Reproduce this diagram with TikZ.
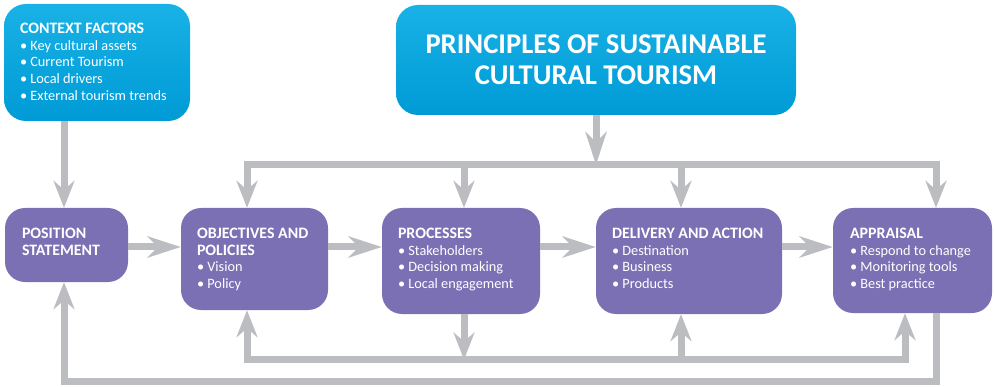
\documentclass[tikz,border=0pt]{standalone}
\usepackage{fontspec}
\setmainfont{Carlito}
\usetikzlibrary{arrows.meta, positioning}

\definecolor{skytop}{HTML}{18B2E6}
\definecolor{skybot}{HTML}{009AD6}
\definecolor{plum}{HTML}{7B70B4}
\definecolor{flowgrey}{HTML}{BCBDC1}

\newcommand\stagehead[1]{{\bfseries\fontsize{15.9}{16.7}\selectfont #1}}

\tikzset{
	flowtip/.tip={Stealth[length=27pt,width=21pt,inset=9pt]},
	longtip/.tip={Stealth[length=33pt,width=21pt,inset=10pt]},
	flow/.style={draw=flowgrey, line width=7pt},
	bluebox/.style={rounded corners=22pt, top color=skytop, bottom color=skybot, inner sep=0pt},
	stagebox/.style={rounded corners=20pt, fill=plum, inner sep=0pt},
	boxtext/.style={inner sep=0pt, align=left, text=white, font=\fontsize{14.3}{16.7}\selectfont}
}

\begin{document}
\begin{tikzpicture}[x=1pt, y=-1pt]
	\useasboundingbox (0,0) rectangle (995,387);

	% boxes
	\node[bluebox, minimum width=186pt, minimum height=117pt] (ctx) at (97,62.5) {};
	\node[bluebox, minimum width=400pt, minimum height=110pt, text=white, align=center,
		font=\bfseries\fontsize{28.6}{31}\selectfont] (prin) at (596,60) {PRINCIPLES OF SUSTAINABLE\\CULTURAL TOURISM};
	\node[stagebox, minimum width=123pt, minimum height=74pt] (pos) at (66.5,245) {};
	\node[stagebox, minimum width=147pt, minimum height=102pt] (obj) at (254.5,259) {};
	\node[stagebox, minimum width=158pt, minimum height=106pt] (prc) at (461,261) {};
	\node[stagebox, minimum width=186pt, minimum height=106pt] (dlv) at (689,261) {};
	\node[stagebox, minimum width=159pt, minimum height=105pt] (apr) at (912.5,260.5) {};

	% texts
	\node[boxtext, below right=19pt and 16pt of ctx.north west] (ctxtext) {\stagehead{CONTEXT FACTORS}\\\textbullet\ Key cultural assets\\\textbullet\ Current Tourism\\\textbullet\ Local drivers\\\textbullet\ External tourism trends};
	\node[boxtext, below right=20pt and 17pt of pos.north west] (postext) {\stagehead{POSITION}\\\stagehead{STATEMENT}};
	\node[boxtext, below right=20pt and 16pt of obj.north west] (objtext) {\stagehead{OBJECTIVES AND}\\\stagehead{POLICIES}\\\textbullet\ Vision\\\textbullet\ Policy};
	\node[boxtext, below right=20pt and 16pt of prc.north west] (prctext) {\stagehead{PROCESSES}\\\textbullet\ Stakeholders\\\textbullet\ Decision making\\\textbullet\ Local engagement};
	\node[boxtext, below right=20pt and 16pt of dlv.north west] (dlvtext) {\stagehead{DELIVERY AND ACTION}\\\textbullet\ Destination\\\textbullet\ Business\\\textbullet\ Products};
	\node[boxtext, below right=20pt and 17pt of apr.north west] (aprtext) {\stagehead{APPRAISAL}\\\textbullet\ Respond to change\\\textbullet\ Monitoring tools\\\textbullet\ Best practice};

	% bars and drop points
	\coordinate (topbar) at (0,165);
	\coordinate (rowy) at (0,247);
	\coordinate (lowbar) at (0,359.5);
	\coordinate (basebar) at (0,381.5);
	\coordinate (inpos) at (64,0);
	\coordinate (inobj) at (247,0);
	\coordinate (inprc) at (464,0);
	\coordinate (indlv) at (681,0);
	\coordinate (inapr) at (936,0);
	\coordinate (upapr) at (905,0);

	% main row
	\draw[flow, -{flowtip}] (ctx.south -| inpos) -- (pos.north -| inpos);
	\draw[flow, -{longtip}] (pos.east |- rowy) -- (obj.west |- rowy);
	\draw[flow, -{longtip}] (obj.east |- rowy) -- (prc.west |- rowy);
	\draw[flow, -{longtip}] (prc.east |- rowy) -- (dlv.west |- rowy);
	\draw[flow, -{longtip}] (dlv.east |- rowy) -- (apr.west |- rowy);

	% principles feed
	\draw[flow, -{longtip}] (prin.south) -- (prin.south |- topbar);
	\draw[flow, {flowtip}-{flowtip}] (obj.north -| inobj) -- (inobj |- topbar) -- (inapr |- topbar) -- (apr.north -| inapr);
	\draw[flow, -{flowtip}] (inprc |- topbar) -- (prc.north -| inprc);
	\draw[flow, -{flowtip}] (indlv |- topbar) -- (dlv.north -| indlv);

	% feedback loops
	\draw[flow, -{flowtip}] (prc.south -| inprc) -- (inprc |- lowbar);
	\draw[flow, {flowtip}-{flowtip}] (obj.south -| inobj) -- (inobj |- lowbar) -- (upapr |- lowbar) -- (apr.south -| upapr);
	\draw[flow, -{flowtip}] (indlv |- lowbar) -- (dlv.south -| indlv);
	\draw[flow, -{flowtip}] (apr.south -| inapr) -- (inapr |- basebar) -- (inpos |- basebar) -- (pos.south -| inpos);
\end{tikzpicture}
\end{document}
